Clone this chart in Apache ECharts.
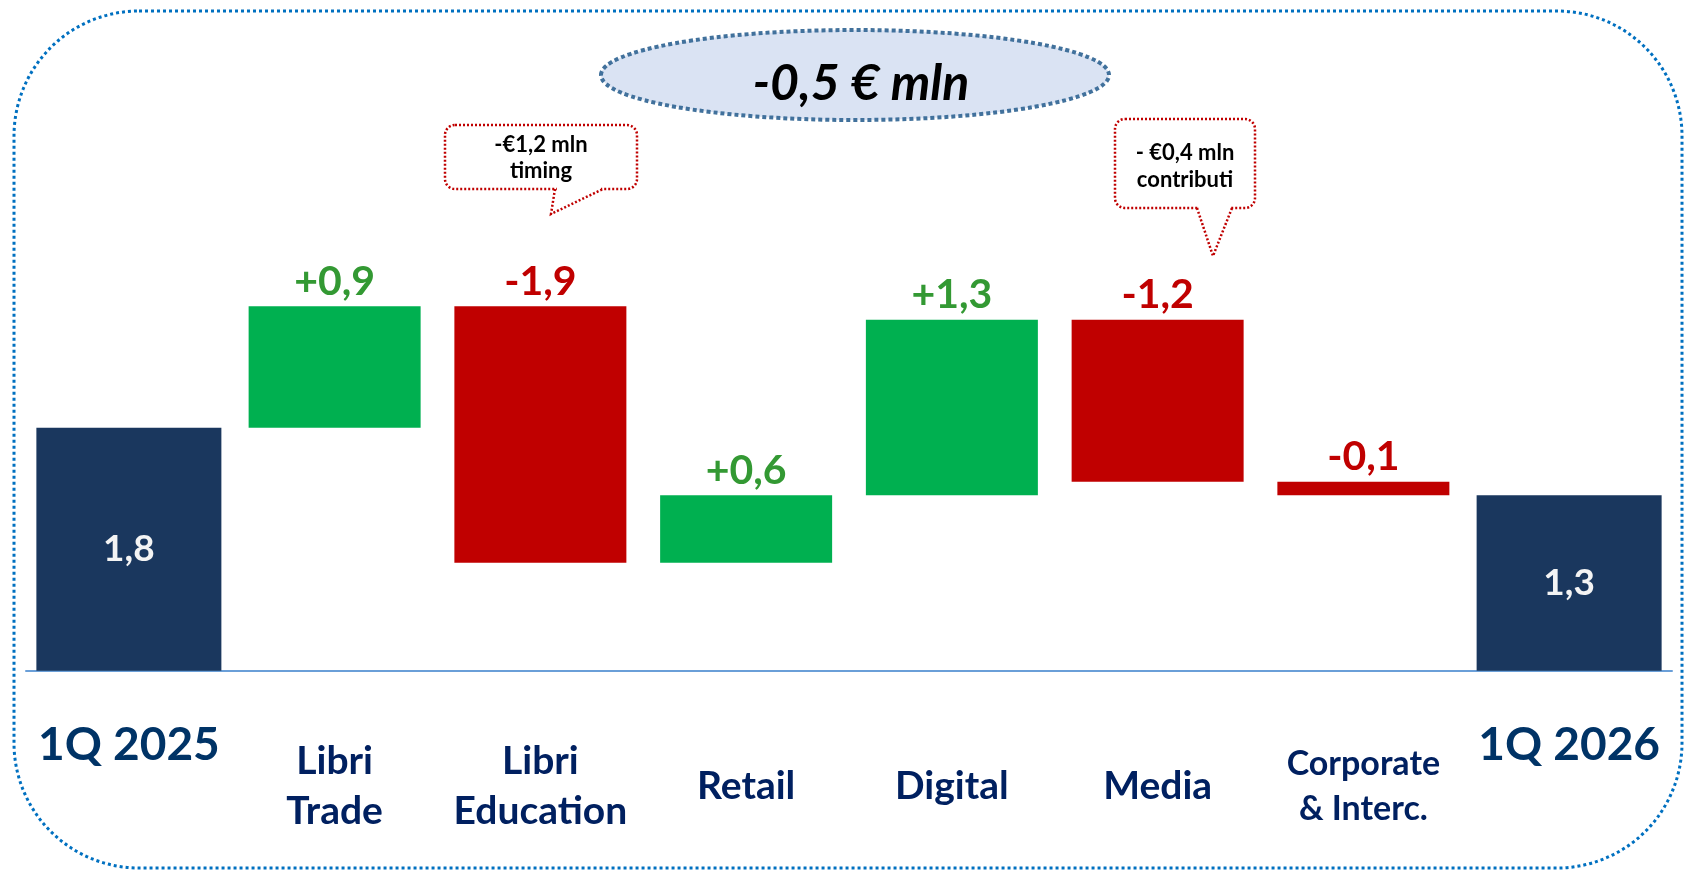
<!DOCTYPE html>
<html>
<head>
<meta charset="utf-8">
<title>EBITDA bridge 1Q</title>
<script src="https://cdn.jsdelivr.net/npm/echarts@6/dist/echarts.min.js"></script>
<style>
  html, body { margin: 0; padding: 0; background: #fff; }
  #chart { width: 1684px; height: 872px; }
</style>
</head>
<body>
<div id="chart"></div>
<script>
// dati del ponte (€ mln)
const categories = ['1Q 2025', 'Libri\nTrade', 'Libri\nEducation', 'Retail', 'Digital', 'Media', 'Corporate\n& Interc.', '1Q 2026']
const startValue = 1.8
const endValue = 1.3
const deltas = [0.9, -1.9, 0.5, 1.3, -1.2, -0.1]
const deltaLabels = ['+0,9', '-1,9', '+0,6', '+1,3', '-1,2', '-0,1']
const totalLabels = ['1,8', '1,3']
const totalChange = '-0,5 € mln'
const notes = ['-€1,2 mln\ntiming', '- €0,4 mln\ncontributi']

const FONT = 'Lato'
const NAVY = '#1a375e'
const GREEN = '#00b050'
const RED = '#c00000'

// serie a cascata: base trasparente + variazione
const baseData = ['-']
const changeData = ['-']
let running = startValue
deltas.forEach((d, i) => {
  const from = running
  running = running + d
  baseData.push(Math.min(from, running))
  changeData.push({
    value: Math.abs(d),
    itemStyle: { color: d >= 0 ? GREEN : RED },
    label: { color: d >= 0 ? '#339933' : RED, formatter: deltaLabels[i] }
  })
})
baseData.push('-')
changeData.push('-')

const totalData = categories.map((c, i) => {
  if (i === 0) return startValue
  if (i === categories.length - 1) return endValue
  return '-'
})

const chart = echarts.init(document.getElementById('chart'))

const option = {
  animation: false,
  grid: { left: 26, right: 12, top: 22.7, bottom: 201.3 },
  xAxis: [
    {
      type: 'category',
      data: categories,
      position: 'bottom',
      axisTick: { show: false },
      axisLine: { lineStyle: { color: '#6a9fd8', width: 2 } },
      axisLabel: {
        interval: 0,
        margin: 116,
        verticalAlign: 'middle',
        color: '#002060',
        fontFamily: FONT,
        fontWeight: 'bold',
        fontSize: 39,
        lineHeight: 50,
        formatter: (v, i) => {
          if (i === 0 || i === categories.length - 1) return ''
          if (v.indexOf('Corporate') === 0) return '{s|' + v.replace('\n', '}\n{s|') + '}'
          return v
        },
        rich: {
          s: { fontFamily: FONT, fontWeight: 'bold', fontSize: 34, lineHeight: 45, color: '#002060' }
        }
      }
    },
    {
      type: 'category',
      data: categories,
      position: 'bottom',
      axisTick: { show: false },
      axisLine: { show: false },
      axisLabel: {
        interval: 0,
        margin: 74,
        verticalAlign: 'middle',
        color: '#003366',
        fontFamily: FONT,
        fontWeight: 'bold',
        fontSize: 46,
        formatter: (v, i) => (i === 0 || i === categories.length - 1) ? v : ''
      }
    }
  ],
  yAxis: { type: 'value', min: 0, max: 4.8, show: false },
  series: [
    {
      name: 'base',
      type: 'bar',
      xAxisIndex: 0,
      stack: 'wf',
      barWidth: 172,
      itemStyle: { color: 'transparent' },
      emphasis: { disabled: true },
      data: baseData
    },
    {
      name: 'variazione',
      type: 'bar',
      xAxisIndex: 0,
      stack: 'wf',
      barWidth: 172,
      label: {
        show: true,
        position: 'top',
        distance: 4,
        fontFamily: FONT,
        fontWeight: 'bold',
        fontSize: 41
      },
      data: changeData
    },
    {
      name: 'totale',
      type: 'bar',
      xAxisIndex: 1,
      barWidth: 185,
      itemStyle: { color: NAVY },
      label: {
        show: true,
        position: 'inside',
        color: '#f4f4f4',
        fontFamily: FONT,
        fontWeight: 'bold',
        fontSize: 37,
        formatter: (p) => p.dataIndex === 0 ? totalLabels[0] : totalLabels[1]
      },
      data: totalData
    }
  ],
  graphic: [
    // cornice tratteggiata
    {
      type: 'rect',
      z: -10,
      shape: { x: 14, y: 11, width: 1668, height: 857, r: 125 },
      style: { fill: 'none', stroke: '#0070c0', lineWidth: 3, lineDash: [3, 3] }
    },
    // ovale con la variazione totale
    {
      type: 'ellipse',
      shape: { cx: 855, cy: 75, rx: 254, ry: 45 },
      style: { fill: '#dae3f3', stroke: '#41719c', lineWidth: 4, lineDash: [4, 3] }
    },
    {
      type: 'text',
      x: 861,
      y: 84,
      style: {
        text: totalChange,
        fill: '#000',
        font: 'italic bold 50px ' + FONT,
        align: 'center',
        verticalAlign: 'middle'
      }
    },
    // fumetto Libri Education
    {
      type: 'rect',
      shape: { x: 445, y: 125, width: 192, height: 64, r: 10 },
      style: { fill: '#fff', stroke: RED, lineWidth: 2.5, lineDash: [2, 2] }
    },
    {
      type: 'line',
      shape: { x1: 557, y1: 189, x2: 601, y2: 189 },
      style: { stroke: '#fff', lineWidth: 5 }
    },
    {
      type: 'polyline',
      shape: { points: [[555, 189], [551, 214], [603, 189]] },
      style: { stroke: RED, lineWidth: 2.5, lineDash: [2, 2], fill: null }
    },
    {
      type: 'text',
      x: 541,
      y: 158,
      style: {
        text: notes[0],
        fill: '#000',
        font: 'bold 22px ' + FONT,
        lineHeight: 26,
        align: 'center',
        verticalAlign: 'middle'
      }
    },
    // fumetto Media
    {
      type: 'rect',
      shape: { x: 1115, y: 119, width: 140, height: 89, r: 10 },
      style: { fill: '#fff', stroke: RED, lineWidth: 2.5, lineDash: [2, 2] }
    },
    {
      type: 'line',
      shape: { x1: 1199, y1: 208, x2: 1230, y2: 208 },
      style: { stroke: '#fff', lineWidth: 5 }
    },
    {
      type: 'polyline',
      shape: { points: [[1197, 208], [1213, 256], [1232, 208]] },
      style: { stroke: RED, lineWidth: 2.5, lineDash: [2, 2], fill: null }
    },
    {
      type: 'text',
      x: 1185,
      y: 166,
      style: {
        text: notes[1],
        fill: '#000',
        font: 'bold 22px ' + FONT,
        lineHeight: 27,
        align: 'center',
        verticalAlign: 'middle'
      }
    }
  ]
}

chart.setOption(option)
</script>
</body>
</html>
